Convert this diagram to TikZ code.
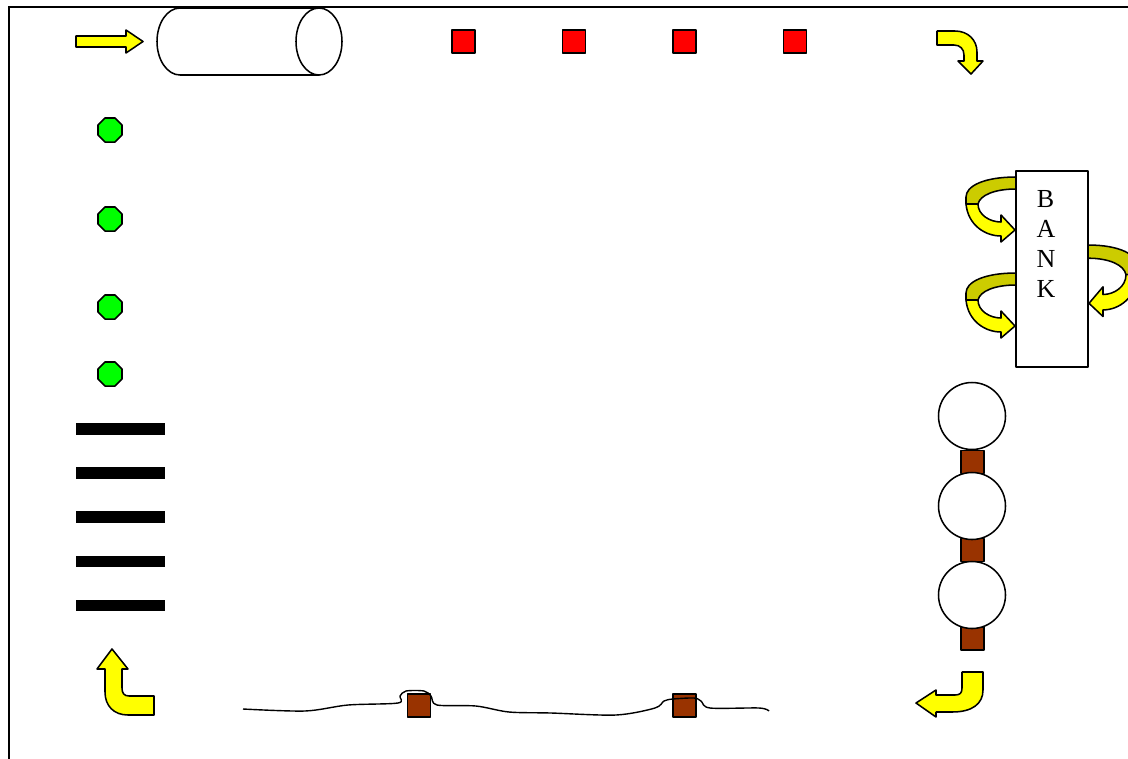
\documentclass[tikz,border=0pt]{standalone}
\usepackage{fontspec}
\setmainfont{Liberation Serif}
\usetikzlibrary{shapes.geometric}
\definecolor{ylw}{RGB}{255,255,0}
\definecolor{dylw}{RGB}{204,204,0}
\definecolor{redsq}{RGB}{255,0,0}
\definecolor{grn}{RGB}{0,255,0}
\definecolor{brn}{RGB}{153,51,0}
\begin{document}
\begin{tikzpicture}[x=0.75pt,y=-0.75pt,
  outl/.style={draw=black,line width=1.15pt,line join=round},
  yarrow/.style={outl,fill=ylw},
  darrow/.style={outl,fill=dylw},
  redbox/.style={rectangle,outl,fill=redsq,minimum width=17.25pt,minimum height=17.25pt,inner sep=0pt,outer sep=0pt},
  brnbox/.style={rectangle,outl,fill=brn,minimum width=17.25pt,minimum height=17.5pt,inner sep=0pt,outer sep=0pt},
  octa/.style={regular polygon,regular polygon sides=8,outl,fill=grn,minimum size=19.5pt,inner sep=0pt,outer sep=0pt},
  bar/.style={rectangle,fill=black,minimum width=66.75pt,minimum height=8.75pt,inner sep=0pt,outer sep=0pt},
  bead/.style={circle,outl,fill=white,minimum size=50.25pt,inner sep=0pt,outer sep=0pt},
  letter/.style={font=\fontsize{19.5}{23}\selectfont,anchor=base,inner sep=0pt}]
\useasboundingbox (0,0) rectangle (1128,758);
\clip (0,0) rectangle (1128,758);
% frame
\draw[line width=1.2pt] (9,770) -- (9,7) -- (1140,7);
% top-left straight arrow
\draw[yarrow] (76,36) -- (126,36) -- (126,30) -- (143,41.5) -- (126,53) -- (126,47) -- (76,47) -- cycle;
% cylinder
\coordinate (cyl) at (250,41.5);
\draw[outl,fill=white] (180,8) arc[start angle=90,end angle=270,x radius=17.25pt,y radius=25.125pt] -- (319,75) -- (319,8) -- cycle;
\draw[outl,fill=white] (319,41.5) ellipse[x radius=17.25pt,y radius=25.125pt];
% red squares
\node[redbox] (r1) at (463.5,41.5) {};
\node[redbox] (r2) at (574,41.5) {};
\node[redbox] (r3) at (684.5,41.5) {};
\node[redbox] (r4) at (795,41.5) {};
% top-right bent arrow
\draw[yarrow] (937,31) -- (955,31) .. controls (968,31) and (977,40) .. (977,52) -- (977,61) -- (983,61) -- (971,74) -- (958,61) -- (964,61) -- (964,55) .. controls (964,49) and (960,45) .. (954,45) -- (937,45) -- cycle;
% green octagons
\node[octa] (g1) at (110,130) {};
\node[octa] (g2) at (110,219) {};
\node[octa] (g3) at (110,307) {};
\node[octa] (g4) at (110,374) {};
% black bars
\node[bar] (b1) at (120.5,429) {};
\node[bar] (b2) at (120.5,473) {};
\node[bar] (b3) at (120.5,517) {};
\node[bar] (b4) at (120.5,561.5) {};
\node[bar] (b5) at (120.5,605.5) {};
% bottom-left bent arrow
\draw[yarrow] (112,649) -- (128,669) -- (122,669) -- (122,688) .. controls (122,693) and (124,696) .. (129,696) -- (154,696) -- (154,715) -- (128,715) .. controls (114,715) and (105,706) .. (105,692) -- (105,669) -- (97,669) -- cycle;
% bank
\node[rectangle,outl,fill=white,minimum width=54pt,minimum height=147pt,inner sep=0pt,outer sep=0pt] (bank) at (1052,269) {};
\node[letter] (lB) at (1045.5,207) {B};
\node[letter] (lA) at (1046,237) {A};
\node[letter] (lN) at (1046,267) {N};
\node[letter] (lK) at (1046,297) {K};
% circular arrows at the bank
\begin{scope}[shift={(1016,177)}]
  \draw[darrow] (0,0) .. controls (-32,0) and (-50,9) .. (-50,20) -- (-50,27) -- (-38,27) .. controls (-36,18) and (-21,12) .. (0,12) -- cycle;
  \draw[yarrow] (-50,27) .. controls (-48,48) and (-31,59) .. (-15,59) -- (-15,65) -- (-1,53) -- (-15,38) -- (-15,45) .. controls (-26,45) and (-38,38) .. (-38,27) -- cycle;
\end{scope}
\begin{scope}[shift={(1016,273)}]
  \draw[darrow] (0,0) .. controls (-32,0) and (-50,9) .. (-50,20) -- (-50,27) -- (-38,27) .. controls (-36,18) and (-21,12) .. (0,12) -- cycle;
  \draw[yarrow] (-50,27) .. controls (-48,48) and (-31,59) .. (-15,59) -- (-15,65) -- (-1,53) -- (-15,38) -- (-15,45) .. controls (-26,45) and (-38,38) .. (-38,27) -- cycle;
\end{scope}
\begin{scope}[shift={(1088,245)},xscale=-1,yscale=1.1]
  \draw[darrow] (0,0) .. controls (-32,0) and (-50,9) .. (-50,20) -- (-50,27) -- (-38,27) .. controls (-36,18) and (-21,12) .. (0,12) -- cycle;
  \draw[yarrow] (-50,27) .. controls (-48,48) and (-31,59) .. (-15,59) -- (-15,65) -- (-1,53) -- (-15,38) -- (-15,45) .. controls (-26,45) and (-38,38) .. (-38,27) -- cycle;
\end{scope}
% beads and brown squares on the right
\node[brnbox] (s1) at (972.5,462) {};
\node[brnbox] (s2) at (972.5,550) {};
\node[brnbox] (s3) at (972.5,638.5) {};
\node[bead] (c1) at (972,416) {};
\node[bead] (c2) at (972,506) {};
\node[bead] (c3) at (972,595) {};
% bottom-right bent arrow
\draw[yarrow] (962,672) -- (983,672) -- (983,690) .. controls (983,704) and (972,712) .. (952,712) -- (936,712) -- (936,717) -- (916,703) -- (936,690) -- (936,695) -- (955,695) .. controls (960,695) and (962,693) .. (962,688) -- cycle;
% bottom wavy line with squares
\node[brnbox] (w1) at (419,705.5) {};
\node[brnbox] (w2) at (684.5,705.5) {};
\draw[line width=1.05pt] plot[smooth,tension=0.5] coordinates {(243,709) (305,711) (348,705) (398,703) (400,696) (406,691) (424,691) (431,696) (437,705) (476,706) (509,712) (551,713) (616,715) (655,708) (664,701) (673,699) (694,698) (701,701) (710,708) (759,708) (769,711)};
\end{tikzpicture}
\end{document}
